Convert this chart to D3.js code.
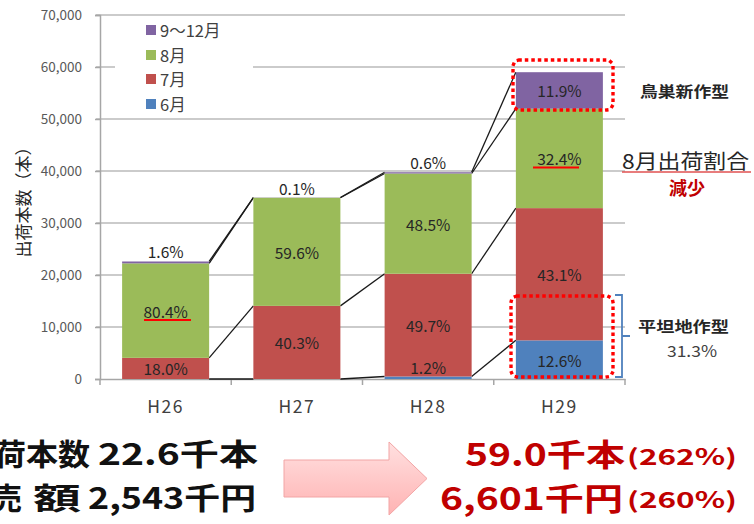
<!DOCTYPE html>
<html>
<head>
<meta charset="utf-8">
<script src="https://cdn.jsdelivr.net/npm/d3@7"></script>
<style>
  body { margin: 0; background: #fff; }
  svg { display: block; font-family: "Noto Sans CJK JP", "Noto Sans", sans-serif; }
</style>
</head>
<body>
<svg id="chart" width="754" height="524"></svg>
<script>
// data (本)
const years = ["H26", "H27", "H28", "H29"];
const jun = [0, 0, 480, 7430];
const jul = [4070, 14060, 19760, 25430];
const aug = [18170, 20800, 19280, 19120];
const sepDec = [360, 40, 240, 7020];

const junLabels = ["", "", "1.2%", "12.6%"];
const julLabels = ["18.0%", "40.3%", "49.7%", "43.1%"];
const augLabels = ["80.4%", "59.6%", "48.5%", "32.4%"];
const sepDecLabels = ["1.6%", "0.1%", "0.6%", "11.9%"];

const seriesNames = ["6月", "7月", "8月", "9～12月"];
const seriesColors = ["#4f81bd", "#c0504d", "#9bbb59", "#8064a2"];
const yTicks = [0, 10000, 20000, 30000, 40000, 50000, 60000, 70000];

const svg = d3.select("#chart");

const x = d3.scaleBand().domain(years).range([100, 625])
            .paddingInner(0.337).paddingOuter(0.1685);
const y = d3.scaleLinear().domain([0, 70000]).range([379, 15]);

// rows for stacking
const rows = years.map((yr, i) => ({
  year: yr, "6月": jun[i], "7月": jul[i], "8月": aug[i], "9～12月": sepDec[i]
}));
const labels = {"6月": junLabels, "7月": julLabels, "8月": augLabels, "9～12月": sepDecLabels};
const stacked = d3.stack().keys(seriesNames)(rows);

// gridlines
svg.append("g").selectAll("line").data(yTicks.slice(1)).join("line")
  .attr("x1", 96).attr("x2", 625)
  .attr("y1", d => y(d)).attr("y2", d => y(d))
  .attr("stroke", "#bababa").attr("stroke-width", 1.6);

// y axis
const yAxis = svg.append("g").attr("transform", "translate(100,0)")
  .call(d3.axisLeft(y).tickValues(yTicks).tickFormat(d3.format(",")).tickSize(5).tickPadding(13));
yAxis.select(".domain").attr("stroke", "#a6a6a6").attr("stroke-width", 1.5);
yAxis.selectAll(".tick line").attr("stroke", "#a6a6a6").attr("stroke-width", 1.5);
yAxis.selectAll(".tick text").attr("fill", "#595959")
  .style("font-size", "13.5px").style("font-family", "'Noto Sans CJK JP', sans-serif");

// x axis
const xAxis = svg.append("g").attr("transform", "translate(0,379)")
  .call(d3.axisBottom(x).tickSize(0).tickPadding(22));
xAxis.select(".domain").attr("stroke", "#a6a6a6").attr("stroke-width", 1.5);
xAxis.selectAll(".tick text").attr("fill", "#404040")
  .style("font-size", "17.5px").style("letter-spacing", "1.5px")
  .style("font-family", "'Noto Sans CJK JP', sans-serif");
const step = x.step();
svg.append("g").selectAll("line").data(d3.range(years.length + 1)).join("line")
  .attr("x1", d => 100 + d * step).attr("x2", d => 100 + d * step)
  .attr("y1", 379).attr("y2", 385)
  .attr("stroke", "#a6a6a6").attr("stroke-width", 1.5);

// y title
svg.append("text")
  .attr("transform", "translate(22,198) rotate(-90)")
  .attr("text-anchor", "middle").attr("dominant-baseline", "central")
  .attr("fill", "#262626").style("font-size", "17px")
  .text("出荷本数（本）");

// legend
const legend = svg.append("g");
legend.append("rect").attr("x", 115).attr("y", 18).attr("width", 138).attr("height", 97).attr("fill", "#fff");
const legendY = [104, 79, 55, 30];
seriesNames.forEach((name, i) => {
  legend.append("rect").attr("x", 146).attr("y", legendY[i] - 5)
    .attr("width", 10).attr("height", 10).attr("fill", seriesColors[i]);
  legend.append("text").attr("x", 160).attr("y", legendY[i])
    .attr("dominant-baseline", "central").attr("fill", "#404040")
    .style("font-size", "16.5px").text(name);
});

// connector lines between bars
const bw = x.bandwidth();
const conn = svg.append("g");
stacked.forEach(s => {
  for (let i = 0; i < years.length - 1; i++) {
    conn.append("line")
      .attr("x1", x(years[i]) + bw).attr("y1", y(s[i][1]))
      .attr("x2", x(years[i + 1])).attr("y2", y(s[i + 1][1]))
      .attr("stroke", "#1a1a1a").attr("stroke-width", 1.3);
  }
});

// bars
svg.append("g").selectAll("g").data(stacked).join("g")
  .attr("fill", (d, i) => seriesColors[i])
  .selectAll("rect").data(d => d).join("rect")
  .attr("x", d => x(d.data.year)).attr("width", bw)
  .attr("y", d => y(d[1])).attr("height", d => y(d[0]) - y(d[1]));

// segment labels
const lab = svg.append("g");
stacked.forEach(s => {
  s.forEach((d, i) => {
    const t = labels[s.key][i];
    if (!t) return;
    const h = y(d[0]) - y(d[1]);
    const cy = h < 12 ? y(d[1]) - 10 : (y(d[0]) + y(d[1])) / 2;
    lab.append("text")
      .attr("x", x(d.data.year) + bw / 2).attr("y", cy)
      .attr("text-anchor", "middle").attr("dominant-baseline", "central")
      .attr("fill", "#262626").style("font-size", "15.5px").text(t);
  });
});

// red underlines on 8月 ratio
svg.append("line").attr("x1", 144).attr("x2", 191).attr("y1", 320).attr("y2", 320)
  .attr("stroke", "#ff0000").attr("stroke-width", 2);
svg.append("line").attr("x1", 533).attr("x2", 579).attr("y1", 167.5).attr("y2", 167.5)
  .attr("stroke", "#ff0000").attr("stroke-width", 2);

// dotted highlight boxes
function dotBox(x0, y0, w, h) {
  svg.append("rect").attr("x", x0).attr("y", y0).attr("width", w).attr("height", h)
    .attr("rx", 7).attr("fill", "none").attr("stroke", "#ff0000")
    .attr("stroke-width", 3.4).attr("stroke-dasharray", "0.1 6.4").attr("stroke-linecap", "square");
}
dotBox(513, 60, 100, 50);
dotBox(511, 296, 102, 81);

// blue bracket
svg.append("path")
  .attr("d", "M615,295 H622 V377 H615 M622,336 H630")
  .attr("fill", "none").attr("stroke", "#4f81bd").attr("stroke-width", 1.8);

// right annotations
function note(t, xx, yy, size, opts) {
  const el = svg.append("text").attr("x", xx).attr("y", yy)
    .attr("dominant-baseline", "central").attr("fill", opts.color || "#262626")
    .style("font-size", size + "px").style("font-weight", opts.bold ? 700 : 400)
    .attr("text-anchor", opts.anchor || "start").text(t);
  if (opts.len) el.attr("textLength", opts.len).attr("lengthAdjust", "spacingAndGlyphs");
  return el;
}
note("鳥巣新作型", 640, 90, 15, {bold: true, len: 89});
note("8月出荷割合", 622, 160, 20, {len: 127});
svg.append("line").attr("x1", 622).attr("x2", 751).attr("y1", 172).attr("y2", 172)
  .attr("stroke", "#e05050").attr("stroke-width", 1.5);
note("減少", 687, 187, 18, {bold: true, color: "#c00000", anchor: "middle"});
note("平坦地作型", 638, 325, 15, {bold: true, len: 91});
note("31.3%", 667, 350, 15.5, {color: "#404040", len: 50});

// bottom summary (left edge clipped as in the slide)
note("出荷本数", -38, 452, 30, {bold: true, color: "#111", len: 128});
note("22.6千本", 98, 452, 30, {bold: true, color: "#111", len: 160});
note("販売", -38, 496, 30, {bold: true, color: "#111", len: 60});
note("額", 33, 496, 30, {bold: true, color: "#111", len: 48});
note("2,543千円", 88, 496, 30, {bold: true, color: "#111", len: 168});

// arrow
const defs = svg.append("defs");
const grad = defs.append("linearGradient").attr("id", "arrowGrad")
  .attr("x1", 0).attr("y1", 0).attr("x2", 0).attr("y2", 1);
grad.append("stop").attr("offset", "0%").attr("stop-color", "#ffe0e0");
grad.append("stop").attr("offset", "100%").attr("stop-color", "#ffb3b3");
svg.append("path")
  .attr("d", "M284,460 H389 V442 L427,478.5 L389,515 V497 H284 Z")
  .attr("fill", "url(#arrowGrad)").attr("stroke", "#f2a5a5").attr("stroke-width", 1);

note("59.0千本", 465, 452, 31, {bold: true, color: "#c00000", len: 160});
note("(262%)", 627, 455, 22, {bold: true, color: "#c00000", len: 110});
note("6,601千円", 440, 496, 31, {bold: true, color: "#c00000", len: 183});
note("(260%)", 627, 498, 22, {bold: true, color: "#c00000", len: 110});
</script>
</body>
</html>
